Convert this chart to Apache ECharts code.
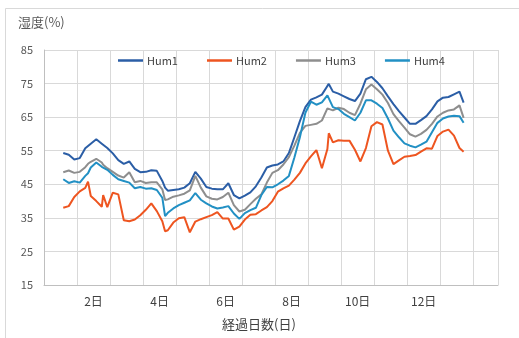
<!DOCTYPE html>
<html>
<head>
<meta charset="utf-8">
<script src="https://cdn.jsdelivr.net/npm/echarts@6/dist/echarts.min.js"></script>
<style>
  html, body { margin: 0; padding: 0; background: #fff; }
  #chart { width: 519px; height: 338px; }
</style>
</head>
<body>
<div id="chart"></div>
<script>
// Elapsed time of each reading, in hours
const elapsedHours = [
  14, 18, 22, 26, 30, 32, 34, 38, 42, 43,
  46, 50, 54, 58, 62, 66, 70, 74, 78, 82,
  86, 88, 90, 94, 98, 102, 106, 110, 114, 118,
  122, 126, 130, 134, 138, 142, 146, 150, 154, 158,
  162, 166, 170, 174, 178, 182, 186, 190, 194, 198,
  202, 206, 207, 210, 214, 218, 222, 226, 230, 234,
  238, 242, 246, 250, 254, 258, 262, 266, 270, 274,
  278, 282, 286, 290, 294, 298, 302, 305
];

// Relative humidity (%) per sensor
const hum1 = [
  54.3, 53.8, 52.4, 52.8, 55.7, 56.4, 57.1, 58.4, 57.1, 56.7,
  55.8, 54.2, 52.2, 51.1, 51.8, 49.6, 48.6, 48.7, 49.2, 49.0,
  46.0, 44.0, 43.1, 43.3, 43.5, 44.0, 45.3, 48.7, 46.7, 44.2,
  43.7, 43.5, 43.5, 45.3, 41.8, 40.8, 41.6, 42.6, 44.4, 47.0,
  50.0, 50.6, 50.9, 51.8, 54.3, 59.0, 63.8, 68.0, 70.2, 70.9,
  71.7, 74.3, 74.9, 72.6, 72.0, 71.2, 70.4, 69.8, 72.0, 76.3,
  77.0, 75.5, 73.6, 71.2, 68.9, 66.8, 64.9, 63.0, 63.0, 64.1,
  65.3, 67.3, 69.7, 70.8, 71.0, 71.8, 72.6, 69.3
];
const hum2 = [
  38.0, 38.5, 41.2, 42.9, 43.9, 45.8, 41.5, 40.0, 38.3, 41.8,
  38.2, 42.5, 42.0, 34.3, 34.0, 34.5, 35.8, 37.4, 39.3, 37.0,
  34.0, 31.0, 31.3, 33.6, 34.9, 35.2, 30.7, 33.9, 34.6, 35.2,
  35.8, 36.7, 34.8, 34.8, 31.5, 32.4, 34.5, 35.9, 36.1, 37.2,
  38.2, 40.0, 42.8, 43.8, 44.6, 46.4, 48.4, 51.2, 53.3, 55.2,
  49.8, 55.5, 60.2, 57.5, 58.1, 58.0, 58.0, 55.3, 51.8, 55.8,
  62.3, 63.5, 62.8, 55.0, 51.0, 52.1, 53.2, 53.4, 53.7, 54.7,
  55.7, 55.6, 59.4, 60.7, 61.3, 59.5, 55.8, 54.7
];
const hum3 = [
  48.6, 49.1, 48.4, 48.7, 50.1, 51.1, 51.7, 52.6, 51.5, 50.8,
  49.8, 48.7, 47.6, 47.0, 48.6, 45.6, 46.0, 45.4, 45.6, 45.6,
  43.5, 40.3, 40.5, 41.3, 41.7, 42.2, 43.2, 47.5, 44.0, 41.4,
  40.7, 40.5, 41.2, 42.5, 38.8, 36.9, 37.4, 39.1, 40.7, 42.0,
  45.5, 48.4, 49.2, 50.9, 53.1, 56.5, 60.3, 62.4, 62.7, 63.0,
  64.0, 67.6, 67.2, 67.0, 67.8, 67.4, 66.3, 65.6, 69.0, 73.3,
  74.7, 73.3, 71.7, 69.2, 65.9, 63.8, 61.9, 59.9, 59.2, 60.0,
  61.2, 63.0, 65.2, 66.3, 67.0, 67.3, 68.5, 64.8
];
const hum4 = [
  46.5, 45.4, 45.9, 45.5, 47.5, 48.3, 50.0, 51.5, 50.2, 49.8,
  49.3, 47.8, 46.5, 46.0, 45.5, 43.8, 44.2, 43.7, 43.8, 43.3,
  41.0, 35.5, 36.5, 37.8, 38.8, 39.5, 40.2, 42.4, 40.4, 39.3,
  38.4, 37.8, 38.1, 38.5, 36.3, 34.7, 36.4, 37.3, 38.0, 41.8,
  44.2, 44.1, 45.0, 46.1, 47.5, 53.0, 59.0, 66.3, 69.6, 68.7,
  69.4, 71.5, 71.2, 68.0, 67.4, 66.0, 65.0, 64.0, 66.3, 70.0,
  70.0, 69.0, 67.7, 64.6, 61.0, 59.0, 57.2, 56.5, 56.0, 56.8,
  57.7, 60.5, 63.3, 64.6, 65.2, 65.4, 65.3, 63.3
];

const seriesNames = ['Hum1', 'Hum2', 'Hum3', 'Hum4'];
const seriesValues = [hum1, hum2, hum3, hum4];
const seriesColors = ['#2b5ea6', '#ee5520', '#8e8e8e', '#2290c4'];

// Day labels, each centred in its day band
const dayLabelDays = [2, 4, 6, 8, 10, 12];
const dayLabelText = ['2日', '4日', '6日', '8日', '10日', '12日'];

const yTicks = [15, 25, 35, 45, 55, 65, 75, 85];

const FONT = '"Noto Sans CJK JP", "Noto Sans", sans-serif';
const chart = echarts.init(document.getElementById('chart'), null, { renderer: 'canvas' });

chart.setOption({
  animation: false,
  backgroundColor: '#ffffff',
  textStyle: { fontFamily: FONT },
  graphic: [
    {
      type: 'rect', silent: true, z: -1,
      shape: { x: 5.5, y: 8.5, width: 540, height: 360 },
      style: { fill: 'none', stroke: '#d9d9d9', lineWidth: 1 }
    },
    {
      type: 'text', left: 18, top: 16,
      style: { text: '湿度(%)', fontSize: 13, fill: '#595959', fontFamily: FONT }
    },
    {
      type: 'text', left: 222, top: 318,
      style: { text: '経過日数(日)', fontSize: 13, fill: '#404040', fontFamily: FONT }
    }
  ],
  legend: {
    left: 113, top: 50,
    icon: 'rect', itemWidth: 25, itemHeight: 2.5, itemGap: 29,
    textStyle: { fontSize: 11, color: '#404040', fontFamily: FONT, padding: [0, 0, 0, -1] },
    data: seriesNames
  },
  grid: { left: 44, right: 21, top: 50, bottom: 53, containLabel: false },
  xAxis: {
    type: 'value', min: 0, max: 330, interval: 24,
    axisLine: { show: true, lineStyle: { color: '#bfbfbf', width: 1 } },
    axisTick: { show: false },
    splitLine: { show: true, lineStyle: { color: '#d9d9d9', width: 1 } },
    axisLabel: {
      customValues: dayLabelDays.map(d => (d - 0.5) * 24),
      formatter: v => dayLabelText[dayLabelDays.indexOf(v / 24 + 0.5)] || '',
      fontSize: 12, color: '#404040', margin: 10, fontFamily: FONT
    }
  },
  yAxis: {
    type: 'value', min: yTicks[0], max: yTicks[yTicks.length - 1], interval: 10,
    axisLine: { show: true, lineStyle: { color: '#bfbfbf', width: 1 } },
    axisTick: { show: false },
    splitLine: { show: true, lineStyle: { color: '#d9d9d9', width: 1 } },
    axisLabel: { fontSize: 11, color: '#595959', margin: 11, fontFamily: FONT }
  },
  series: seriesNames.map((name, i) => ({
    name,
    type: 'line',
    showSymbol: false,
    symbol: 'none',
    color: seriesColors[i],
    lineStyle: { width: 2, color: seriesColors[i] },
    data: elapsedHours.map((h, k) => [h, seriesValues[i][k]])
  }))
});
</script>
</body>
</html>
